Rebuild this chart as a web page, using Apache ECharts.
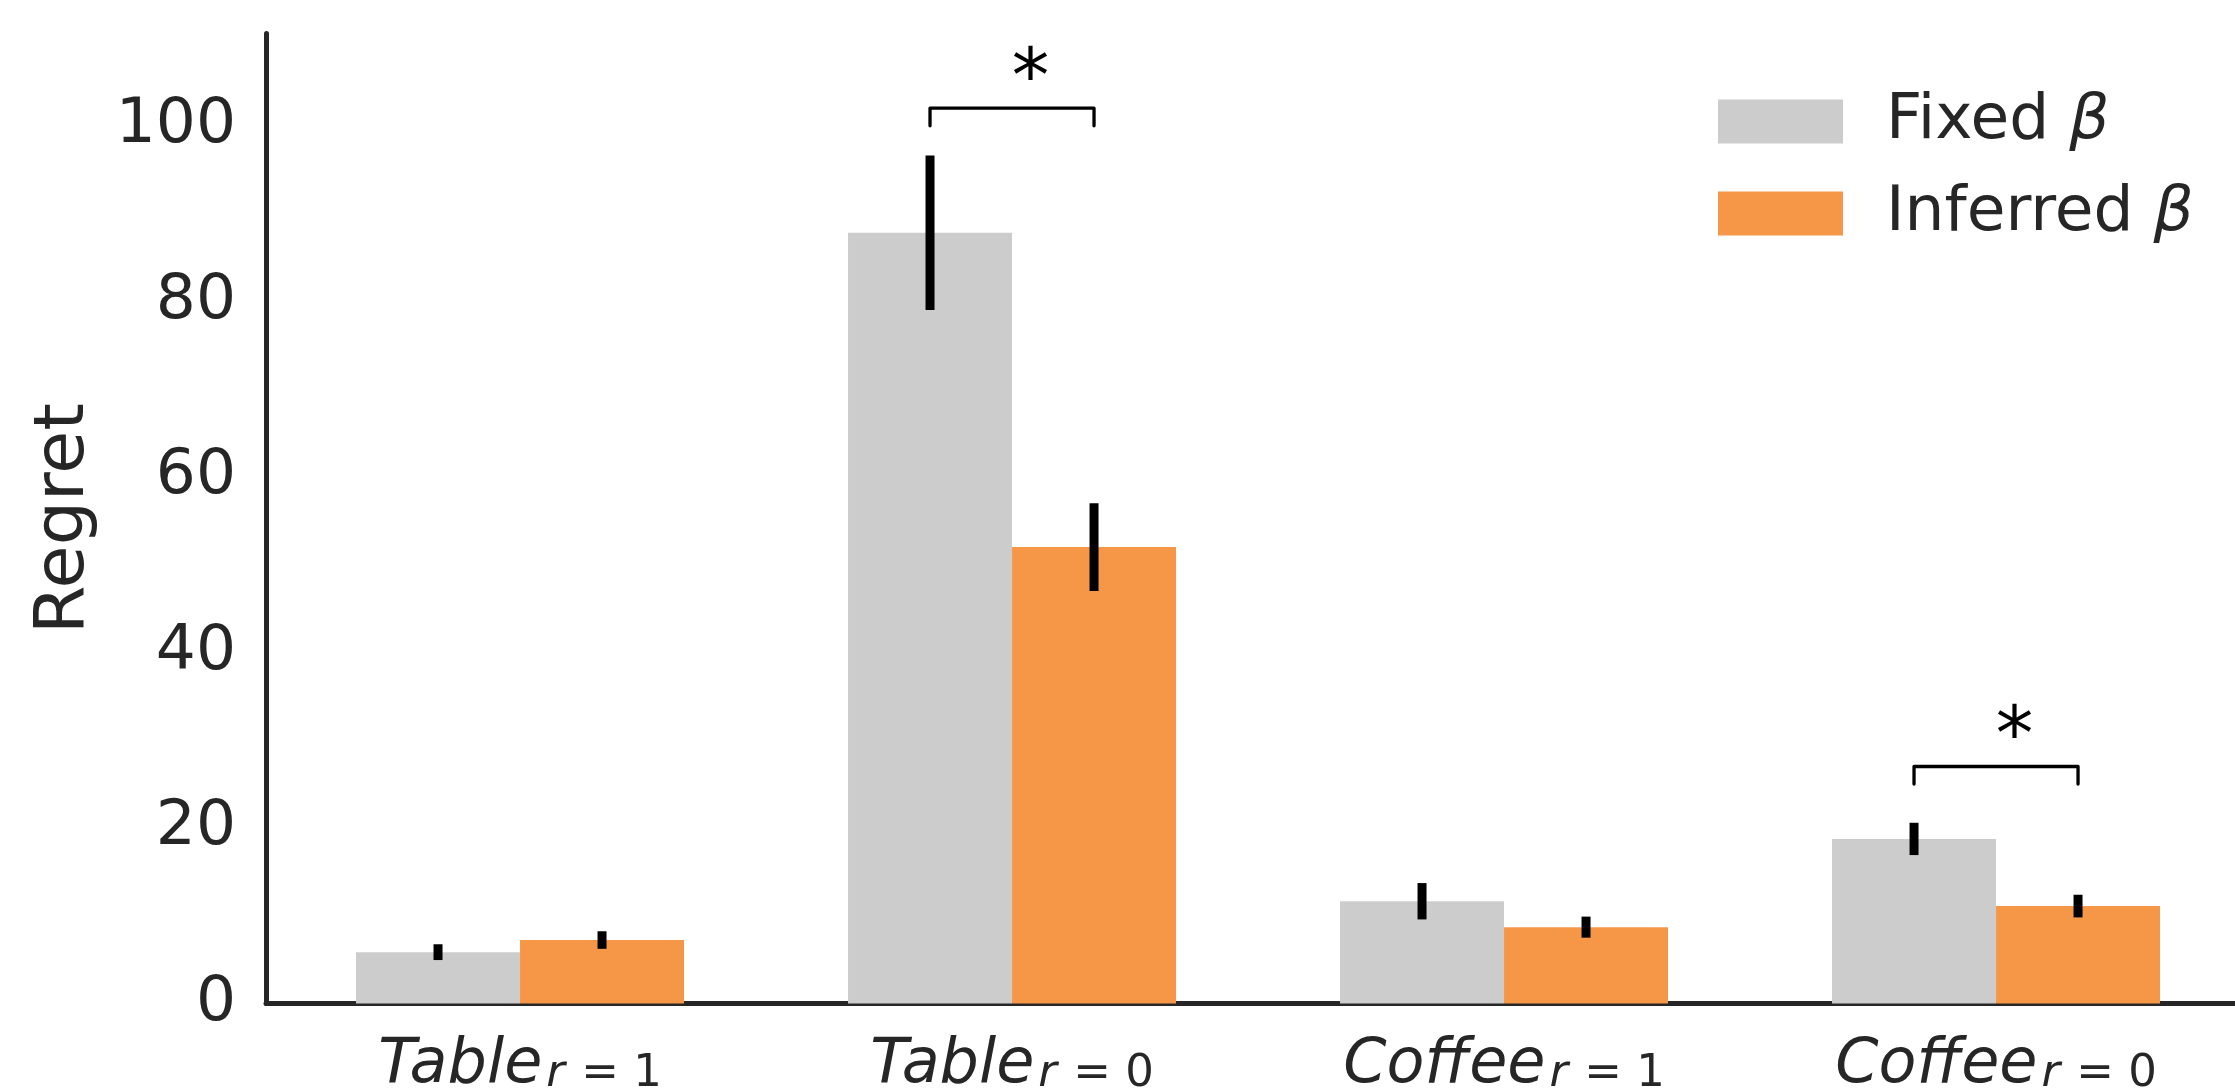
<!DOCTYPE html>
<html>
<head>
<meta charset="utf-8">
<script src="https://cdn.jsdelivr.net/npm/echarts@6/dist/echarts.min.js"></script>
<style>
html,body{margin:0;padding:0;background:#fff;}
#chart{width:2235px;height:1092px;}
</style>
</head>
<body>
<div id="chart"></div>
<script>
// ---- data ----
const categories = ['Table', 'Table', 'Coffee', 'Coffee'];
const subscriptVars = ['r', 'r', 'r', 'r'];
const subscriptVals = ['1', '0', '1', '0'];
const seriesNames = ['Fixed β', 'Inferred β'];
const fixedValues = [5.85, 87.8, 11.65, 18.75];
const fixedErrors = [0.9, 8.8, 2.07, 1.84];
const inferredValues = [7.23, 52.0, 8.7, 11.1];
const inferredErrors = [1.0, 5.0, 1.2, 1.29];
// significance brackets: [category index, base y, top y]
const brackets = [[1, 100, 102], [3, 25, 27]];
const yTicks = [0, 20, 40, 60, 80, 100];

// ---- style ----
const FONT = 'DejaVu Sans';
const TXT = '#262626';
const GRAY = '#cccccc';
const ORANGE = '#f69748';
const BAR_W = 1 / 3;

const chart = echarts.init(document.getElementById('chart'));

function barSeries(name, values, errors, color, offset) {
  return {
    name: name,
    type: 'custom',
    clip: false,
    itemStyle: { color: color },
    data: values.map((v, i) => [i, v, errors[i]]),
    renderItem: function (params, api) {
      const i = api.value(0), v = api.value(1), e = api.value(2);
      const tl = api.coord([i + offset, v]);
      const br = api.coord([i + offset + BAR_W, 0]);
      const cx = api.coord([i + offset + BAR_W / 2, v])[0];
      const eTop = api.coord([i, v + e])[1];
      const eBot = api.coord([i, v - e])[1];
      return {
        type: 'group',
        children: [
          { type: 'rect', shape: { x: tl[0], y: tl[1], width: br[0] - tl[0], height: br[1] - tl[1] },
            style: { fill: color } },
          { type: 'line', shape: { x1: cx, y1: eTop, x2: cx, y2: eBot },
            style: { stroke: '#000', lineWidth: 9, lineCap: 'butt' } }
        ]
      };
    }
  };
}

const option = {
  animation: false,
  backgroundColor: '#fff',
  grid: { left: 266, right: 0, top: 33.6, bottom: 88.5, containLabel: false },
  xAxis: {
    type: 'value', min: -0.5163, max: 3.4857,
    axisLine: { show: true, onZero: true, lineStyle: { color: TXT, width: 5 } },
    axisTick: { show: false }, axisLabel: { show: false }, splitLine: { show: false }
  },
  yAxis: {
    type: 'value', min: 0, max: 110.5, interval: 20,
    name: 'Regret', nameLocation: 'middle', nameGap: 166, nameRotate: 90,
    nameTextStyle: { fontFamily: FONT, fontSize: 70, color: TXT },
    axisLine: { show: true, onZero: false, lineStyle: { color: TXT, width: 5 } },
    axisTick: { show: false }, splitLine: { show: false },
    axisLabel: {
      fontFamily: FONT, fontSize: 63, color: TXT, margin: 30,
      showMaxLabel: false,
      formatter: function (v) { return yTicks.indexOf(v) >= 0 ? String(v) : ''; }
    }
  },
  legend: {
    data: seriesNames,
    orient: 'vertical', left: 1713, top: 85,
    itemWidth: 125, itemHeight: 44, itemGap: 29, icon: 'rect',
    formatter: function (name) {
      const parts = name.split(' ');
      return '{n|' + parts[0] + ' }{b|' + parts[1] + '}';
    },
    textStyle: {
      rich: {
        n: { fontFamily: FONT, fontSize: 63, color: TXT, lineHeight: 44, padding: [0, 0, 0, 38] },
        b: { fontFamily: FONT, fontSize: 63, color: TXT, lineHeight: 44, fontStyle: 'italic' }
      }
    }
  },
  series: [
    barSeries(seriesNames[0], fixedValues, fixedErrors, GRAY, -BAR_W),
    barSeries(seriesNames[1], inferredValues, inferredErrors, ORANGE, 0),
    {
      type: 'custom', clip: false, silent: true,
      data: brackets,
      renderItem: function (params, api) {
        const i = api.value(0), b = api.value(1), t = api.value(2);
        const p1 = api.coord([i - BAR_W / 2, b]);
        const p2 = api.coord([i - BAR_W / 2, t]);
        const p3 = api.coord([i + BAR_W / 2, t]);
        const p4 = api.coord([i + BAR_W / 2, b]);
        const star = api.coord([i + 0.0375, t]);
        return {
          type: 'group',
          children: [
            { type: 'polyline', shape: { points: [p1, p2, p3, p4] },
              style: { stroke: '#000', fill: null, lineWidth: 3.3, lineCap: 'round', lineJoin: 'round' } },
            { type: 'text', x: star[0], y: star[1] - 27,
              style: { text: '*', fill: '#000', fontFamily: FONT, fontSize: 75, align: 'center', verticalAlign: 'middle' } }
          ]
        };
      }
    },
    {
      type: 'custom', clip: false, silent: true,
      data: categories.map((c, i) => [i]),
      renderItem: function (params, api) {
        const i = api.value(0);
        const p = api.coord([i, 0]);
        return {
          type: 'text', x: p[0], y: p[1] + 3.5,
          style: {
            text: '{m|' + categories[i] + '}{r|' + subscriptVars[i] + '}{s| = ' + subscriptVals[i] + '}',
            align: 'center', verticalAlign: 'top',
            rich: {
              m: { fontFamily: FONT, fontSize: 62, fontStyle: 'italic', fill: TXT, lineHeight: 90, verticalAlign: 'bottom' },
              r: { fontFamily: FONT, fontSize: 45, fontStyle: 'italic', fill: TXT, lineHeight: 32, verticalAlign: 'bottom', padding: [0, 2, 0, 4] },
              s: { fontFamily: FONT, fontSize: 45, fill: TXT, lineHeight: 32, verticalAlign: 'bottom' }
            }
          }
        };
      }
    }
  ]
};
chart.setOption(option);
</script>
</body>
</html>
